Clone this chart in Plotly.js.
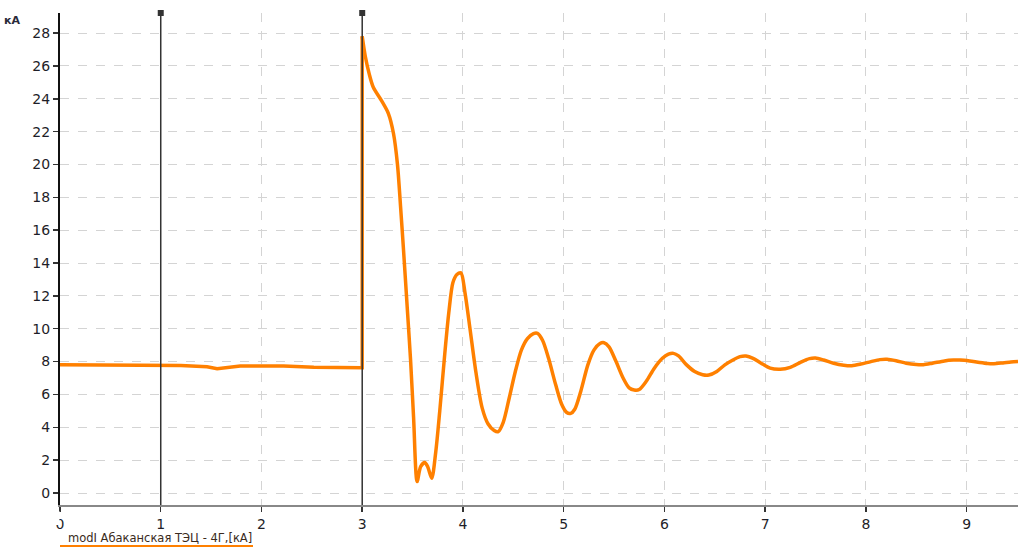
<!DOCTYPE html>
<html>
<head>
<meta charset="utf-8">
<script src="https://cdn.plot.ly/plotly-3.0.1.min.js"></script>
<style>html,body{margin:0;padding:0;background:#fff;}#chart{width:1018px;height:548px;}</style>
</head>
<body>
<div id="chart"></div>
<script>
// Pre-fault segment and step at t = 3 s
const timeA = [0, 1.0, 1.2, 1.46, 1.56, 1.79, 2.0, 2.22, 2.52, 2.98, 3.0, 3.0];
const currentA = [7.8, 7.79, 7.76, 7.69, 7.57, 7.73, 7.72, 7.73, 7.65, 7.63, 7.62, 27.8];

// Transient after t = 3 s
const timeB = [3.00,3.03,3.07,3.11,3.19,3.26,3.31,3.35,3.38,3.41,3.45,3.48,3.51,3.545,3.58,3.62,3.65,3.69,3.73,3.77,3.82,3.86,3.90,3.94,3.98,4.02,4.07,4.13,4.19,4.25,4.31,4.35,4.40,4.46,4.52,4.58,4.64,4.70,4.74,4.79,4.85,4.92,4.98,5.03,5.07,5.11,5.17,5.24,5.30,5.36,5.40,5.45,5.52,5.59,5.65,5.70,5.75,5.82,5.90,5.98,6.04,6.09,6.14,6.22,6.30,6.38,6.44,6.52,6.60,6.68,6.75,6.81,6.88,6.96,7.05,7.15,7.25,7.35,7.44,7.50,7.58,7.68,7.78,7.86,7.95,8.05,8.14,8.21,8.30,8.40,8.50,8.57,8.66,8.78,8.87,8.94,9.03,9.13,9.21,9.27,9.36,9.44,9.51];
const currentB = [27.8,26.6,25.5,24.7,23.9,23.1,21.9,20.0,17.5,14.8,11.0,8.1,4.6,0.7,1.6,1.85,1.6,0.9,2.5,5.0,8.5,11.0,12.8,13.3,13.4,12.2,10.0,7.3,5.2,4.2,3.8,3.73,4.3,5.8,7.4,8.7,9.4,9.7,9.72,9.3,8.2,6.6,5.4,4.9,4.85,5.1,6.2,7.8,8.7,9.1,9.15,8.9,8.0,7.0,6.4,6.27,6.3,6.8,7.6,8.2,8.45,8.5,8.35,7.8,7.4,7.2,7.18,7.4,7.8,8.1,8.3,8.34,8.2,7.9,7.6,7.53,7.65,7.95,8.18,8.22,8.1,7.9,7.78,7.75,7.85,8.0,8.12,8.14,8.05,7.9,7.82,7.81,7.9,8.04,8.09,8.1,8.04,7.94,7.88,7.87,7.92,7.97,8.0];

const cursorX = [1, 3];
const xTicks = [0,1,2,3,4,5,6,7,8,9];
const yTicks = [0,2,4,6,8,10,12,14,16,18,20,22,24,26,28];
const seriesName = "modI Абаканская ТЭЦ - 4Г,[кА]";
const unitLabel = "кА";

const xRange = [0, 9.51];
const yRange = [-0.73, 29.22];
const orange = "#ff8000";

const traces = [
  {x: timeA, y: currentA, type: "scatter", mode: "lines", line: {color: orange, width: 3.5}, showlegend: false, hoverinfo: "skip"},
  {x: timeB, y: currentB, type: "scatter", mode: "lines", line: {color: orange, width: 3.5, shape: "spline", smoothing: 0.8}, showlegend: false, hoverinfo: "skip"},
  {x: cursorX, y: cursorX.map(() => yRange[1]), type: "scatter", mode: "markers", cliponaxis: false,
   marker: {symbol: "square", size: 6, color: "#333"}, showlegend: false, hoverinfo: "skip"}
];

const shapes = cursorX.map(c => ({type: "line", xref: "x", yref: "paper", x0: c, x1: c, y0: 0, y1: 1, line: {color: "#333", width: 1.5}, layer: "above"}));
// legend underline
shapes.push({type: "line", xref: "paper", yref: "paper", x0: 0, x1: (253-60)/958, y0: -(546-505)/492, y1: -(546-505)/492, line: {color: orange, width: 2}});
// clip half of the first x label like the original
shapes.push({type: "rect", xref: "paper", yref: "paper", x0: -12/958, x1: -0.6/958, y0: -(511-505)/492, y1: -(525-505)/492, fillcolor: "#fff", line: {width: 0}, layer: "above"});
// clip left part of unit label like the original
shapes.push({type: "rect", xref: "paper", yref: "paper", x0: -60/958, x1: (11-60)/958, y0: (505-8)/492, y1: (505-30)/492, fillcolor: "#fff", line: {width: 0}, layer: "above"});

const font = {family: "DejaVu Sans, Verdana, sans-serif", size: 14, color: "#1e1e28"};

const layout = {
  width: 1018, height: 548,
  margin: {l: 60, r: 0, t: 13, b: 43},
  paper_bgcolor: "#fff", plot_bgcolor: "#fff",
  font: font,
  showlegend: false,
  xaxis: {range: xRange, tickvals: xTicks, ticktext: xTicks.map(String), showgrid: true, gridcolor: "#d4d4d4", griddash: "dash", gridwidth: 1,
          zeroline: false, showline: true, linecolor: "#888", linewidth: 2, ticks: "outside", ticklen: 5, tickcolor: "#333", tickwidth: 1.5, tickfont: font},
  yaxis: {range: yRange, tickvals: yTicks, ticktext: yTicks.map(String), showgrid: true, gridcolor: "#d4d4d4", griddash: "dash", gridwidth: 1,
          zeroline: false, showline: true, linecolor: "#111", linewidth: 2, ticks: "outside", ticklen: 5, tickcolor: "#333", tickwidth: 1.5, tickfont: font},
  shapes: shapes,
  annotations: [
    {text: "<b>" + unitLabel + "</b>", xref: "paper", yref: "paper", x: (22-60)/958, y: (505-20)/492, xanchor: "right", yanchor: "middle", showarrow: false,
     font: {family: "DejaVu Sans, Verdana, sans-serif", size: 11, color: "#2a2a3a"}},
    {text: seriesName, xref: "paper", yref: "paper", x: (66-60)/958, y: -(537.5-505)/492, xanchor: "left", yanchor: "middle", showarrow: false,
     font: {family: "DejaVu Sans, Verdana, sans-serif", size: 11.5, color: "#3a2a20"}}
  ]
};

Plotly.newPlot("chart", traces, layout, {displayModeBar: false, staticPlot: true});
</script>
</body>
</html>
